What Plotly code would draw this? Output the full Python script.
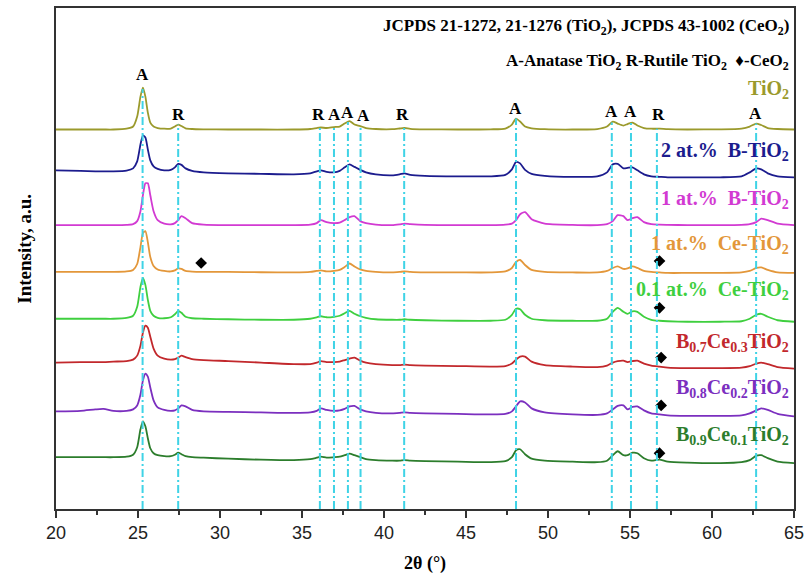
import numpy as np
import plotly.graph_objects as go

# ---------------- data ----------------
two_theta = [20, 21.5, 22.4, 22.9, 23.5, 24.3, 24.7, 24.95, 25.15, 25.3, 25.45, 25.6, 25.75, 25.95,
             26.2, 26.6, 27.0, 27.25, 27.45, 27.65, 27.9, 28.3, 29.0, 30.5, 32.5, 34.5, 35.5, 35.9,
             36.15, 36.5, 36.95, 37.3, 37.6, 37.9, 38.2, 38.55, 38.9, 39.5, 40.5, 40.95, 41.25, 41.6,
             42.5, 44.5, 46.5, 47.4, 47.8, 48.05, 48.3, 48.6, 49.0, 49.8, 51.5, 53.0, 53.6, 53.95,
             54.25, 54.6, 54.85, 55.15, 55.45, 55.85, 56.3, 56.8, 57.3, 58.5, 60.5, 61.8, 62.3, 62.7,
             63.0, 63.4, 64.0, 65]

tio2 = [0, 0, 0, 0, 0, 0.8, 3, 13, 33, 42, 33, 17, 7, 3, 1.5, 0.8, 1, 3, 5, 3.5, 1.2, 0.5, 0.2, 0, 0,
        0, 0.5, 1.5, 2, 1.5, 2.5, 3, 6, 8.5, 5, 3.5, 1.5, 0.5, 0.3, 1, 1.5, 0.7, 0.2, 0, 0.2, 1, 5,
        11, 8, 3, 1.2, 0.3, 0, 0.5, 3, 8, 6, 4, 5.5, 7, 4, 1.5, 0.8, 0.8, 0.3, 0, 0.2, 1, 3, 6, 4.5,
        1.5, 0.5, 0]
b2_tio2 = [0, -0.5, -1, -1, -1, -0.3, 2, 9, 26, 35, 33, 21, 10, 4, 1.5, 0, 0.5, 3, 6.5, 5.5, 2,
           -0.5, -2, -3, -3.5, -4, -3, -1, 0, -1.5, -2, -0.5, 3, 6, 3.5, 0.5, -2, -4, -5, -4, -3,
           -4.5, -5.5, -6, -6, -4.5, 1, 8.5, 7, 0.5, -3.5, -5.5, -6.5, -6, -2, 6, 6.5, 2, 2.5, 3,
           0, -4, -6, -6.5, -7, -7, -7, -6, -2, 2, 1, -3, -6, -7]
b1_tio2 = [0, 0, 0, 0, 0, 0.3, 1, 4, 14, 30, 42, 42, 30, 14, 5, 1.5, 0.8, 2, 5, 9, 7, 2, 0.5, 0,
           0, 0, 0.5, 2, 5, 3, 2, 2.5, 5, 8, 9, 4, 2, 0.5, 0, 0.8, 1.5, 1, 0.2, 0, 0, 0.5, 1.5, 5,
           11, 13, 6, 1.5, 0.2, 0, 1, 4, 10, 9, 5, 7, 8, 3, 1, 0.5, 0.3, 0, 0, 0.3, 1, 3, 6.5, 5,
           1.5, 0]
ce1_tio2 = [0, 0, 0, 0, 0, 0.5, 2, 8, 25, 39, 41, 30, 15, 6, 2.5, 1, 0.5, 1.5, 3.5, 3, 1, 0.3, 0,
            0, -0.3, -0.5, 0, 1, 1.5, 0.5, 1, 2, 5, 8.5, 5.5, 2.5, 1, 0, -0.5, 0, 0.5, 0, -0.5,
            -0.5, -0.5, 0.5, 4, 10, 12, 7, 2, 0, -0.5, -0.5, 1, 4, 5.5, 3, 3.5, 5.5, 4, 1, 0,
            -0.5, -1, -1, -1, -0.5, 1, 4, 4.5, 2, -0.5, -1]
ce01_tio2 = [0, 0, 0, 0, 0, 0.8, 3, 12, 32, 41, 34, 19, 8, 3, 1, 0.5, 1.5, 4.5, 8, 6, 2, 0.5, 0,
             -0.5, -1, -1, 0, 1.5, 2.5, 1.5, 2, 3, 5.5, 8, 5, 2.5, 1, -0.5, -1, -1, -0.5, -1,
             -1.5, -2, -2, -1, 4, 10, 9.5, 4, 0, -1.5, -2, -2, 0, 7, 11, 7, 5, 7.5, 7, 2, -1, -2,
             -2.5, -3, -3, -2.5, 0, 4, 5, 2, -1.5, -3]
b07ce03 = [0, 0.5, 0.5, 0.5, 1, 1.5, 3, 7, 17, 30, 37, 35, 26, 14, 7, 4, 3, 3.5, 5, 7, 5.5, 3.5,
           2.5, 1.5, 0, -1.5, -1.5, 0, 1.5, 0.5, 0.5, 1, 2.5, 4, 5, 2, 0, -1.5, -2.5, -2.5, -2,
           -2.5, -3, -3.5, -4, -3.5, -1, 3, 6, 6, 1, -2.5, -4, -4.5, -3, 0, 1.5, 2, 0.5, 1.5, 2,
           -1, -3, -4, -5, -5.5, -5.5, -5, -3.5, -1, 0, -1.5, -4.5, -6]
b08ce02 = [0, 0.5, 2, 2.5, 0.5, 0.5, 2, 6, 17, 31, 38, 35, 24, 11, 4, 1.5, 0.5, 1, 3, 6, 5, 1.5, 0,
           -0.5, -1, -1.5, -1, 0.5, 3, 1.5, 0.5, 1, 2.5, 5, 5.5, 2, 0, -1.5, -2, -1.5, -1, -1.5,
           -2, -2.5, -3, -2.5, 0, 5, 10, 9, 3, -1, -3, -3.5, -2, 2, 5.5, 6, 2, 4.5, 5, 1, -2, -3,
           -4, -4.5, -4.5, -4, -2, 1, 3, 1.5, -2.5, -5]
b09ce01 = [0, 0, 0, 0, 0, 0.5, 2.5, 10, 28, 36, 31, 19, 9, 4, 2, 1, 1, 2.5, 4.5, 3, 1, 0, -0.5,
           -1.5, -2.5, -3, -2, -0.5, 0.5, -0.5, 0, 0.5, 2, 3.5, 2, 0, -2, -3, -3.5, -3.5, -3,
           -3.5, -4, -4.5, -5, -4, 0, 7, 8, 3, -1.5, -3.5, -4.5, -5, -3.5, 2, 6, 2, 2, 4.5, 4, -1,
           -3.5, -2.5, -4.5, -5.5, -6, -5, -3, 1.5, 2, -1, -4.5, -6]

series_values = [tio2, b2_tio2, b1_tio2, ce1_tio2, ce01_tio2, b07ce03, b08ce02, b09ce01]
series_offsets = [381, 340, 285, 238, 191, 147, 98, 52]
series_colors = ["#9b9a2c", "#1c1c8e", "#d23ad2", "#e3973a", "#3fcf3f", "#c2282c", "#7b2fbf", "#2c7d2c"]
series_labels = ["TiO<sub>2</sub>",
                 "2 at.%  B-TiO<sub>2</sub>",
                 "1 at.%  B-TiO<sub>2</sub>",
                 "1 at.%  Ce-TiO<sub>2</sub>",
                 "0.1 at.%  Ce-TiO<sub>2</sub>",
                 "B<sub>0.7</sub>Ce<sub>0.3</sub>TiO<sub>2</sub>",
                 "B<sub>0.8</sub>Ce<sub>0.2</sub>TiO<sub>2</sub>",
                 "B<sub>0.9</sub>Ce<sub>0.1</sub>TiO<sub>2</sub>"]
label_levels = [421, 359, 311, 266, 219, 167, 121, 74]

ref_positions = [25.28, 27.45, 36.09, 36.95, 37.8, 38.57, 41.23, 48.05, 53.89, 55.06, 56.64, 62.69]
peak_letters = ["A", "R", "R", "A", "A", "A", "R", "A", "A", "A", "R", "A"]
letter_x = [25.3, 27.45, 36.0, 37.0, 37.75, 38.75, 41.15, 48.0, 53.9, 55.05, 56.75, 62.65]
letter_levels = [436, 396, 396, 396, 398, 395, 396, 402, 399, 399, 396, 397]

ceo2_x = [28.85, 56.8, 56.8, 56.9, 56.9, 56.8]
ceo2_y = [247, 249, 202, 152, 104, 56]

xtick_vals = [20, 25, 30, 35, 40, 45, 50, 55, 60, 65]

# ---------------- figure ----------------
SERIF = "Liberation Serif, Times New Roman, serif"
fig = go.Figure()

for vals, off, col in zip(series_values, series_offsets, series_colors):
    fig.add_trace(go.Scatter(
        x=two_theta, y=[v + off for v in vals], mode="lines",
        line=dict(color=col, width=1.8, shape="spline", smoothing=0.6),
        showlegend=False, hoverinfo="skip"))

# reference lines from the TiO2 curve down to the axis
top_curve = np.array(tio2) + series_offsets[0]
for p in ref_positions:
    ytop = float(np.interp(p, two_theta, top_curve))
    fig.add_shape(type="line", x0=p, x1=p, y0=0, y1=ytop, xref="x", yref="y",
                  line=dict(color="#3fd3e6", width=2, dash="8px,3px,2px,3px"), layer="above")

fig.add_trace(go.Scatter(x=ceo2_x, y=ceo2_y, mode="markers",
                         marker=dict(symbol="diamond", size=9, color="black"),
                         showlegend=False, hoverinfo="skip"))

for t, x, y in zip(peak_letters, letter_x, letter_levels):
    fig.add_annotation(x=x, y=y, text=f"<b>{t}</b>", showarrow=False, xref="x", yref="y",
                       font=dict(family=SERIF, size=17, color="black"))

for t, y, c in zip(series_labels, label_levels, series_colors):
    fig.add_annotation(x=64.8, y=y, text=f"<b>{t}</b>", showarrow=False, xref="x", yref="y",
                       xanchor="right", yanchor="middle",
                       font=dict(family=SERIF, size=20, color=c))

fig.add_annotation(x=64.8, y=484, xref="x", yref="y", xanchor="right", yanchor="middle",
                   text="<b>JCPDS 21-1272, 21-1276 (TiO<sub>2</sub>), JCPDS 43-1002 (CeO<sub>2</sub>)</b>",
                   showarrow=False, font=dict(family=SERIF, size=17, color="black"))
fig.add_annotation(x=64.8, y=449, xref="x", yref="y", xanchor="right", yanchor="middle",
                   text="<b>A-Anatase TiO<sub>2</sub> R-Rutile TiO<sub>2</sub>  \u2666-CeO<sub>2</sub></b>",
                   showarrow=False, font=dict(family=SERIF, size=17, color="black"))

fig.add_annotation(x=-0.06, y=0.52, xref="paper", yref="paper", textangle=-90,
                   text="<b>Intensity, a.u.</b>", showarrow=False,
                   font=dict(family=SERIF, size=19, color="black"))
fig.add_annotation(x=0.5, y=-0.108, xref="paper", yref="paper", yanchor="middle",
                   text="<b>2\u03b8 (\u00b0)</b>", showarrow=False,
                   font=dict(family=SERIF, size=18, color="black"))

fig.update_layout(
    width=810, height=581,
    margin=dict(l=56, r=12, t=6, b=72),
    paper_bgcolor="white", plot_bgcolor="white",
    xaxis=dict(range=[20, 65], tickvals=xtick_vals, ticks="outside", ticklen=7, tickwidth=1.5,
               tickcolor="#333", showline=True, linecolor="#333", linewidth=1.5, mirror=True,
               showgrid=False, zeroline=False,
               tickfont=dict(family="Liberation Sans Narrow, Liberation Sans, Arial", size=18, color="#222"),
               minor=dict(dtick=2.5, tick0=20, ticks="outside", ticklen=4, tickcolor="#333", showgrid=False)),
    yaxis=dict(range=[0, 503], showticklabels=False, ticks="", showline=True, linecolor="#333",
               linewidth=1.5, mirror=True, showgrid=False, zeroline=False),
)

fig.write_html("out.html")
